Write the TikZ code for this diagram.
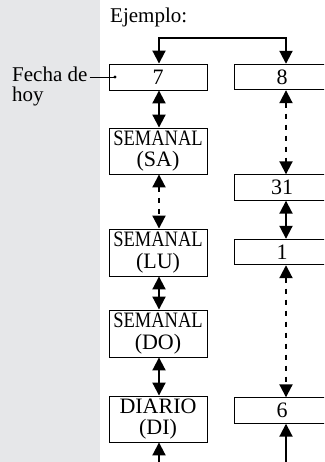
\documentclass[tikz,border=0pt]{standalone}
\usepackage{fontspec}
\setmainfont{Liberation Serif}
\usetikzlibrary{arrows.meta}
\definecolor{bandgray}{RGB}{230,231,233}
\tikzset{
  box/.style={draw, line width=0.9pt, inner sep=0pt, align=center, font=\fontsize{22}{21.5}\selectfont},
  lbox/.style={box, minimum width=98pt},
  rbox/.style={box, minimum width=96pt, minimum height=25.5pt},
  arr/.style={line width=2pt, {Triangle[width=13pt,length=13pt]}-{Triangle[width=13pt,length=13pt]}},
  uparr/.style={line width=2pt, -{Triangle[width=13pt,length=13pt]}},
  dsh/.style={dash pattern=on 5pt off 6pt},
  lbl/.style={font=\fontsize{21}{20}\selectfont, inner sep=0pt}
}
\newcommand{\semtxt}{\scalebox{0.84}[1]{SEMANAL}}
\begin{document}
\begin{tikzpicture}[x=1pt,y=-1pt]
\useasboundingbox (0,0) rectangle (324,462);
\clip (0,0) rectangle (324,462);
\fill[bandgray] (0,0) rectangle (100,462);
\node[lbl, anchor=base west] (ej) at (110,23) {Ejemplo:};
\node[lbl, anchor=base west] (fecha) at (12,82) {Fecha de};
\node[lbl, anchor=base west] (hoy) at (12,102) {hoy};
% left column
\node[lbox, minimum height=26pt] (n7) at (158,77) {7};
\node[lbox, minimum height=46pt] (sa) at (158,151) {\semtxt\\(SA)};
\node[lbox, minimum height=47pt] (lu) at (158,252.5) {\semtxt\\(LU)};
\node[lbox, minimum height=47pt] (do) at (158,333.5) {\semtxt\\(DO)};
\node[lbox, minimum height=46pt] (di) at (158,419) {DIARIO\\(DI)};
% right column
\node[rbox] (n8) at (282,77) {8};
\node[rbox] (n31) at (282,187.5) {31};
\node[rbox] (n1) at (282,252) {1};
\node[rbox] (n6) at (282,410.5) {6};
% helper coordinates
\coordinate (axL) at (159,0);
\coordinate (axR) at (286,0);
\coordinate (ctop) at (220,38);
\coordinate (botL) at (159,470);
\coordinate (botR) at (286,470);
\coordinate (dot) at (115,77);
% fecha pointer
\draw[line width=0.9pt] (fecha.east |- dot) ++(2,0) -- (dot);
\fill (dot) circle (1.6pt);
% top connector
\draw[arr] (n7.north -| axL) |- (ctop) -| (n8.north -| axR);
% left column arrows
\draw[arr] (n7.south -| axL) -- (sa.north -| axL);
\draw[arr, dsh] (sa.south -| axL) -- (lu.north -| axL);
\draw[arr] (lu.south -| axL) -- (do.north -| axL);
\draw[arr] (do.south -| axL) -- (di.north -| axL);
\draw[uparr] (botL) -- (di.south -| axL);
% right column arrows
\draw[arr, dsh] (n8.south -| axR) -- (n31.north -| axR);
\draw[arr] (n31.south -| axR) -- (n1.north -| axR);
\draw[arr, dsh] (n1.south -| axR) -- (n6.north -| axR);
\draw[uparr] (botR) -- (n6.south -| axR);
\end{tikzpicture}
\end{document}
